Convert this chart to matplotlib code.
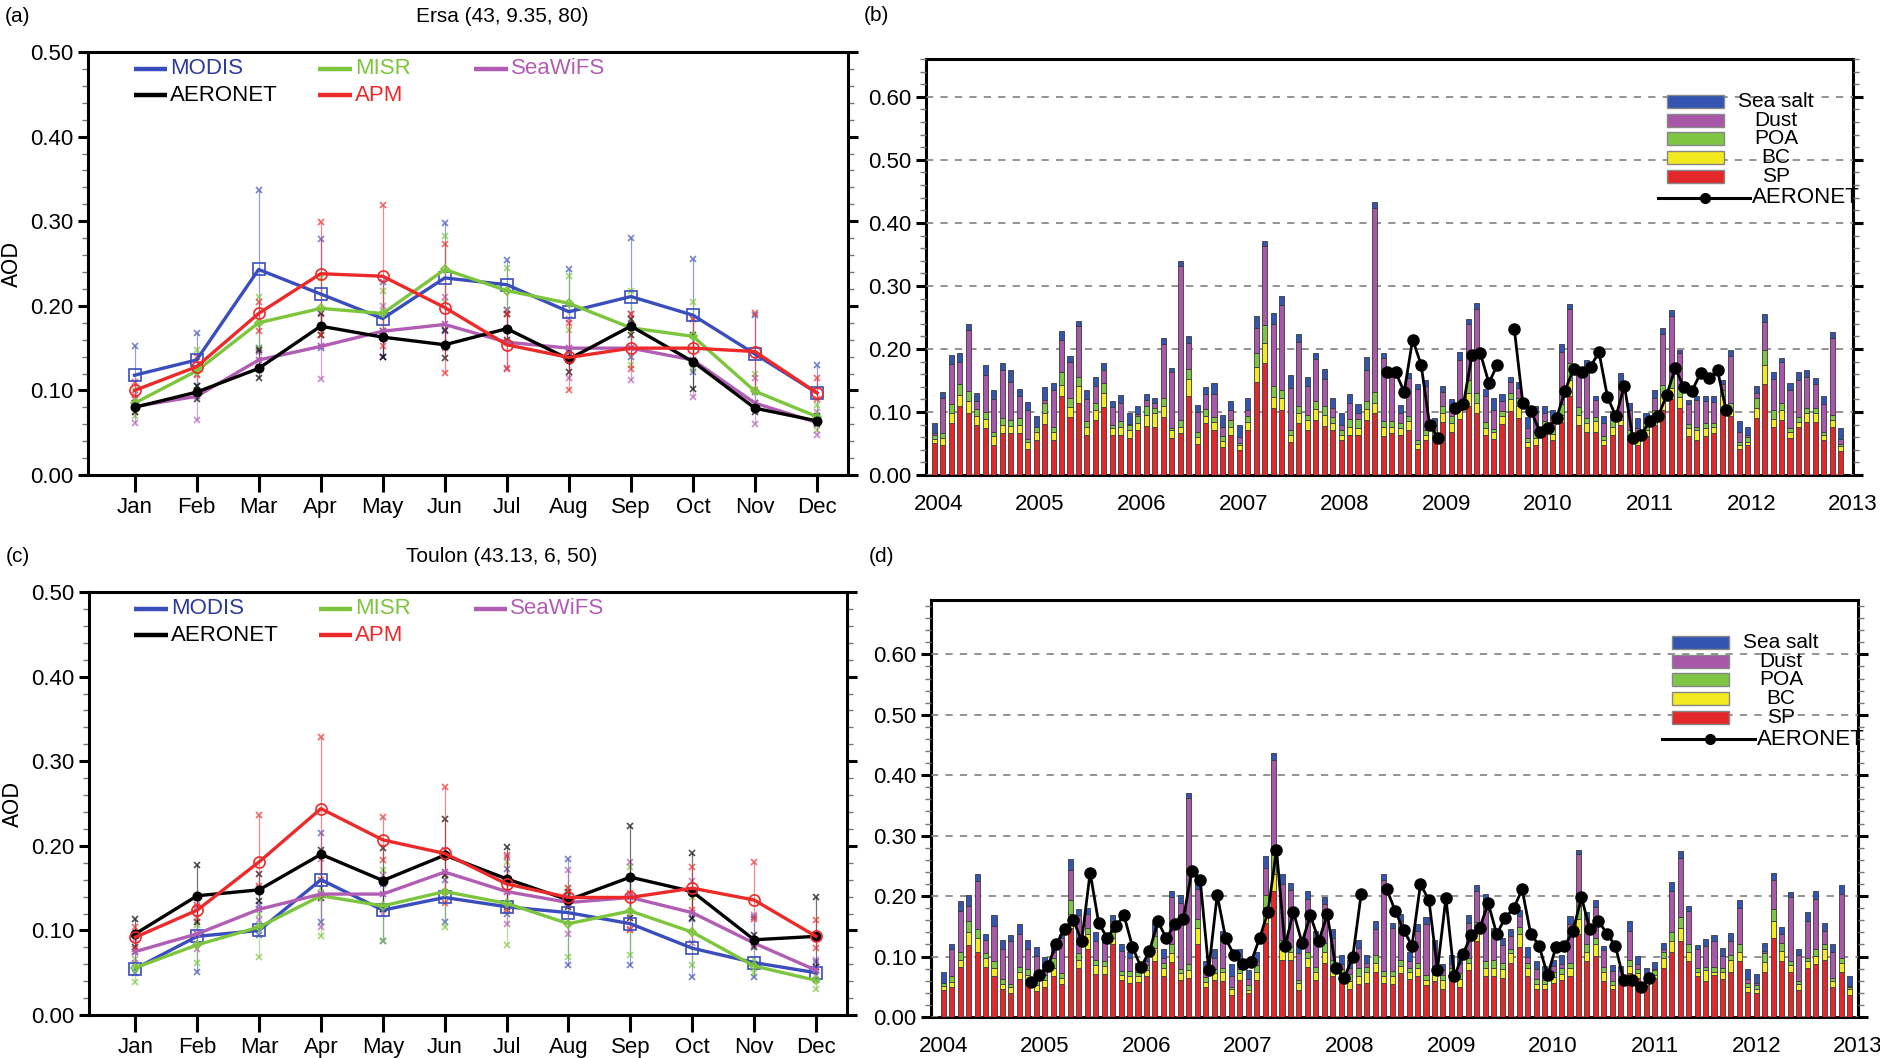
"""
AOD comparison at Ersa and Toulon: monthly climatology (a, c) and
APM composition time series with AERONET (b, d).
"""

import numpy as np
import matplotlib
matplotlib.use("Agg")
import matplotlib.pyplot as plt
from matplotlib.patches import Rectangle
from matplotlib.ticker import MultipleLocator, FormatStrFormatter

plt.rcParams["font.family"] = ["Liberation Sans Narrow", "Liberation Sans", "DejaVu Sans"]

MONTHS = ["Jan", "Feb", "Mar", "Apr", "May", "Jun",
          "Jul", "Aug", "Sep", "Oct", "Nov", "Dec"]
YEARS = [2004, 2005, 2006, 2007, 2008, 2009, 2010, 2011, 2012, 2013]

# ---------------- (a) Ersa monthly means and ranges ----------------
ersa_modis = [0.118, 0.136, 0.243, 0.214, 0.185, 0.233, 0.225, 0.193, 0.211, 0.189, 0.143, 0.097]
ersa_misr = [0.085, 0.123, 0.180, 0.197, 0.191, 0.243, 0.218, 0.203, 0.174, 0.164, 0.099, 0.069]
ersa_seawifs = [0.081, 0.093, 0.136, 0.152, 0.170, 0.178, 0.157, 0.150, 0.150, 0.136, 0.085, 0.062]
ersa_aeronet = [0.080, 0.098, 0.126, 0.176, 0.163, 0.154, 0.173, 0.137, 0.176, 0.134, 0.079, 0.064]
ersa_apm = [0.100, 0.128, 0.191, 0.238, 0.235, 0.198, 0.154, 0.139, 0.150, 0.150, 0.146, 0.097]

ersa_modis_hi = [0.152, 0.168, 0.337, 0.279, 0.228, 0.298, 0.254, 0.244, 0.280, 0.255, 0.189, 0.130]
ersa_modis_lo = [0.085, 0.105, 0.150, 0.150, 0.140, 0.170, 0.195, 0.145, 0.140, 0.122, 0.098, 0.065]
ersa_misr_hi = [0.100, 0.148, 0.211, 0.233, 0.218, 0.283, 0.245, 0.235, 0.218, 0.205, 0.120, 0.083]
ersa_misr_lo = [0.070, 0.100, 0.150, 0.165, 0.165, 0.205, 0.195, 0.172, 0.130, 0.125, 0.080, 0.053]
ersa_seawifs_hi = [0.095, 0.120, 0.145, 0.190, 0.200, 0.210, 0.195, 0.185, 0.190, 0.185, 0.115, 0.075]
ersa_seawifs_lo = [0.062, 0.065, 0.128, 0.113, 0.140, 0.150, 0.127, 0.115, 0.112, 0.092, 0.060, 0.047]
ersa_aeronet_hi = [0.085, 0.105, 0.148, 0.192, 0.170, 0.172, 0.190, 0.148, 0.185, 0.165, 0.085, 0.070]
ersa_aeronet_lo = [0.075, 0.090, 0.115, 0.165, 0.140, 0.138, 0.160, 0.122, 0.165, 0.102, 0.075, 0.060]
ersa_apm_hi = [0.110, 0.140, 0.205, 0.299, 0.319, 0.273, 0.190, 0.180, 0.190, 0.185, 0.191, 0.115]
ersa_apm_lo = [0.090, 0.118, 0.170, 0.165, 0.153, 0.121, 0.125, 0.100, 0.125, 0.135, 0.100, 0.090]

# ---------------- (c) Toulon monthly means and ranges ----------------
toulon_modis = [0.055, 0.093, 0.100, 0.160, 0.124, 0.139, 0.128, 0.121, 0.108, 0.079, 0.062, 0.050]
toulon_misr = [0.056, 0.083, 0.104, 0.141, 0.129, 0.146, 0.132, 0.108, 0.123, 0.098, 0.058, 0.041]
toulon_seawifs = [0.075, 0.096, 0.125, 0.143, 0.143, 0.169, 0.146, 0.133, 0.139, 0.121, 0.085, 0.053]
toulon_aeronet = [0.096, 0.141, 0.148, 0.190, 0.159, 0.189, 0.161, 0.136, 0.163, 0.146, 0.089, 0.093]
toulon_apm = [0.092, 0.124, 0.181, 0.244, 0.207, 0.191, 0.155, 0.139, 0.139, 0.150, 0.136, 0.093]

toulon_modis_hi = [0.074, 0.138, 0.130, 0.215, 0.155, 0.160, 0.173, 0.185, 0.161, 0.114, 0.116, 0.063]
toulon_modis_lo = [0.050, 0.051, 0.095, 0.110, 0.087, 0.110, 0.120, 0.059, 0.059, 0.045, 0.045, 0.042]
toulon_misr_hi = [0.066, 0.106, 0.120, 0.150, 0.171, 0.165, 0.181, 0.150, 0.175, 0.140, 0.066, 0.053]
toulon_misr_lo = [0.039, 0.061, 0.069, 0.093, 0.087, 0.104, 0.083, 0.069, 0.071, 0.059, 0.050, 0.031]
toulon_seawifs_hi = [0.090, 0.128, 0.150, 0.185, 0.166, 0.195, 0.187, 0.171, 0.181, 0.159, 0.118, 0.065]
toulon_seawifs_lo = [0.062, 0.078, 0.112, 0.104, 0.120, 0.145, 0.108, 0.096, 0.102, 0.085, 0.083, 0.046]
toulon_aeronet_hi = [0.114, 0.177, 0.167, 0.195, 0.197, 0.232, 0.199, 0.145, 0.224, 0.191, 0.095, 0.140]
toulon_aeronet_lo = [0.080, 0.110, 0.135, 0.138, 0.125, 0.165, 0.128, 0.128, 0.115, 0.115, 0.080, 0.057]
toulon_apm_hi = [0.104, 0.130, 0.236, 0.329, 0.234, 0.270, 0.189, 0.150, 0.144, 0.175, 0.181, 0.112]
toulon_apm_lo = [0.078, 0.115, 0.152, 0.160, 0.183, 0.132, 0.124, 0.130, 0.100, 0.124, 0.114, 0.079]

# ---------------- (b) Ersa APM composition, Jan 2004 - Dec 2012 ----------------
ersa_sp = [
    0.051, 0.048, 0.083, 0.109, 0.098, 0.080, 0.074, 0.048, 0.067, 0.067, 0.066, 0.042,
    0.056, 0.081, 0.056, 0.125, 0.092, 0.115, 0.064, 0.088, 0.108, 0.064, 0.064, 0.058,
    0.072, 0.078, 0.077, 0.092, 0.058, 0.066, 0.126, 0.050, 0.083, 0.072, 0.044, 0.064,
    0.039, 0.072, 0.147, 0.178, 0.106, 0.103, 0.052, 0.083, 0.072, 0.088, 0.078, 0.071,
    0.056, 0.063, 0.064, 0.088, 0.098, 0.062, 0.066, 0.064, 0.072, 0.041, 0.056, 0.055,
    0.084, 0.068, 0.089, 0.110, 0.098, 0.064, 0.057, 0.081, 0.101, 0.090, 0.045, 0.048,
    0.064, 0.055, 0.084, 0.125, 0.080, 0.069, 0.069, 0.048, 0.064, 0.080, 0.057, 0.048,
    0.062, 0.080, 0.103, 0.120, 0.106, 0.062, 0.056, 0.062, 0.066, 0.105, 0.093, 0.041,
    0.047, 0.090, 0.145, 0.076, 0.088, 0.058, 0.077, 0.084, 0.084, 0.055, 0.076, 0.038]
ersa_bc = [
    0.006, 0.010, 0.015, 0.018, 0.020, 0.013, 0.015, 0.014, 0.012, 0.011, 0.013, 0.011,
    0.013, 0.017, 0.013, 0.018, 0.016, 0.027, 0.013, 0.015, 0.022, 0.011, 0.013, 0.013,
    0.011, 0.017, 0.021, 0.017, 0.013, 0.011, 0.027, 0.011, 0.011, 0.012, 0.010, 0.013,
    0.008, 0.012, 0.024, 0.032, 0.018, 0.019, 0.011, 0.015, 0.015, 0.017, 0.017, 0.012,
    0.008, 0.013, 0.011, 0.016, 0.017, 0.014, 0.011, 0.011, 0.013, 0.009, 0.008, 0.009,
    0.015, 0.014, 0.014, 0.020, 0.016, 0.011, 0.012, 0.012, 0.019, 0.020, 0.008, 0.010,
    0.013, 0.010, 0.012, 0.026, 0.016, 0.013, 0.017, 0.008, 0.013, 0.008, 0.006, 0.008,
    0.010, 0.012, 0.024, 0.018, 0.018, 0.012, 0.015, 0.012, 0.011, 0.020, 0.010, 0.007,
    0.006, 0.016, 0.030, 0.013, 0.015, 0.010, 0.007, 0.015, 0.014, 0.008, 0.011, 0.008]
ersa_poa = [
    0.006, 0.008, 0.014, 0.018, 0.016, 0.011, 0.011, 0.006, 0.012, 0.009, 0.012, 0.004,
    0.008, 0.016, 0.008, 0.020, 0.014, 0.014, 0.008, 0.011, 0.016, 0.004, 0.009, 0.008,
    0.010, 0.015, 0.008, 0.013, 0.004, 0.011, 0.015, 0.008, 0.010, 0.008, 0.008, 0.011,
    0.004, 0.010, 0.023, 0.028, 0.018, 0.013, 0.009, 0.011, 0.009, 0.013, 0.014, 0.009,
    0.008, 0.013, 0.014, 0.013, 0.017, 0.009, 0.008, 0.008, 0.008, 0.006, 0.008, 0.008,
    0.011, 0.012, 0.011, 0.020, 0.016, 0.009, 0.004, 0.008, 0.010, 0.012, 0.006, 0.010,
    0.008, 0.008, 0.017, 0.027, 0.012, 0.008, 0.006, 0.006, 0.011, 0.006, 0.008, 0.008,
    0.010, 0.011, 0.016, 0.018, 0.013, 0.007, 0.005, 0.008, 0.006, 0.010, 0.011, 0.004,
    0.007, 0.016, 0.024, 0.014, 0.011, 0.006, 0.008, 0.007, 0.008, 0.006, 0.009, 0.004]
ersa_dust = [
    0.003, 0.056, 0.064, 0.035, 0.096, 0.014, 0.059, 0.053, 0.075, 0.061, 0.035, 0.046,
    0.000, 0.005, 0.058, 0.052, 0.057, 0.080, 0.035, 0.027, 0.021, 0.029, 0.029, 0.002,
    0.004, 0.009, 0.008, 0.086, 0.088, 0.244, 0.042, 0.031, 0.024, 0.036, 0.015, 0.015,
    0.010, 0.009, 0.040, 0.125, 0.098, 0.134, 0.066, 0.102, 0.046, 0.066, 0.044, 0.014,
    0.008, 0.026, 0.010, 0.050, 0.291, 0.100, 0.071, 0.016, 0.061, 0.080, 0.069, 0.007,
    0.021, 0.015, 0.069, 0.089, 0.134, 0.041, 0.030, 0.016, 0.017, 0.016, 0.015, 0.030,
    0.013, 0.019, 0.082, 0.085, 0.055, 0.085, 0.027, 0.020, 0.004, 0.055, 0.032, 0.010,
    0.007, 0.020, 0.080, 0.097, 0.057, 0.032, 0.043, 0.035, 0.033, 0.010, 0.075, 0.017,
    0.003, 0.008, 0.044, 0.049, 0.065, 0.061, 0.058, 0.050, 0.038, 0.043, 0.121, 0.007]
ersa_seasalt = [
    0.017, 0.010, 0.014, 0.014, 0.009, 0.012, 0.015, 0.014, 0.012, 0.018, 0.010, 0.013,
    0.017, 0.020, 0.011, 0.014, 0.010, 0.009, 0.015, 0.015, 0.011, 0.009, 0.012, 0.018,
    0.012, 0.010, 0.009, 0.010, 0.007, 0.008, 0.010, 0.011, 0.011, 0.018, 0.018, 0.014,
    0.018, 0.019, 0.019, 0.008, 0.017, 0.015, 0.020, 0.013, 0.013, 0.010, 0.016, 0.016,
    0.018, 0.013, 0.013, 0.021, 0.010, 0.009, 0.009, 0.012, 0.008, 0.008, 0.009, 0.012,
    0.011, 0.011, 0.013, 0.008, 0.009, 0.011, 0.019, 0.012, 0.009, 0.010, 0.018, 0.012,
    0.012, 0.011, 0.013, 0.009, 0.009, 0.008, 0.007, 0.012, 0.010, 0.013, 0.012, 0.016,
    0.009, 0.012, 0.010, 0.009, 0.004, 0.006, 0.006, 0.008, 0.009, 0.006, 0.009, 0.016,
    0.013, 0.012, 0.012, 0.012, 0.007, 0.011, 0.013, 0.011, 0.010, 0.013, 0.010, 0.017]
nan = np.nan
ersa_aeronet_monthly = [
    nan, nan, nan, nan, nan, nan, nan, nan, nan, nan, nan, nan,
    nan, nan, nan, nan, nan, nan, nan, nan, nan, nan, nan, nan,
    nan, nan, nan, nan, nan, nan, nan, nan, nan, nan, nan, nan,
    nan, nan, nan, nan, nan, nan, nan, nan, nan, nan, nan, nan,
    nan, nan, nan, nan, nan, 0.163, 0.163, 0.132, 0.215, 0.175, 0.080, 0.059,
    nan, 0.107, 0.113, 0.190, 0.193, 0.146, 0.175, nan, 0.232, 0.115, 0.101, 0.069,
    0.074, 0.091, 0.134, 0.169, 0.163, 0.172, 0.195, 0.124, 0.093, 0.142, 0.058, 0.064,
    0.086, 0.094, 0.127, 0.170, 0.139, 0.134, 0.162, 0.154, 0.166, 0.103, nan, nan,
    nan, nan, nan, nan, nan, nan, nan, nan, nan, nan, nan, nan]

# ---------------- (d) Toulon APM composition, Jan 2004 - Dec 2012 ----------------
toulon_sp = [
    0.045, 0.049, 0.082, 0.119, 0.108, 0.082, 0.067, 0.047, 0.040, 0.063, 0.055, 0.043,
    0.049, 0.067, 0.054, 0.148, 0.081, 0.112, 0.071, 0.071, 0.120, 0.061, 0.057, 0.058,
    0.067, 0.092, 0.067, 0.091, 0.061, 0.064, 0.121, 0.050, 0.061, 0.060, 0.036, 0.061,
    0.039, 0.061, 0.156, 0.209, 0.095, 0.095, 0.045, 0.082, 0.061, 0.089, 0.067, 0.059,
    0.047, 0.054, 0.057, 0.074, 0.057, 0.054, 0.073, 0.063, 0.067, 0.053, 0.059, 0.046,
    0.059, 0.050, 0.078, 0.126, 0.067, 0.067, 0.064, 0.089, 0.115, 0.067, 0.047, 0.047,
    0.056, 0.061, 0.067, 0.137, 0.092, 0.101, 0.060, 0.046, 0.054, 0.073, 0.064, 0.053,
    0.064, 0.081, 0.108, 0.126, 0.092, 0.067, 0.059, 0.069, 0.063, 0.075, 0.092, 0.042,
    0.039, 0.075, 0.131, 0.092, 0.074, 0.045, 0.081, 0.088, 0.095, 0.049, 0.075, 0.036]
toulon_bc = [
    0.007, 0.009, 0.013, 0.021, 0.022, 0.016, 0.014, 0.008, 0.010, 0.011, 0.015, 0.010,
    0.012, 0.014, 0.010, 0.022, 0.014, 0.025, 0.015, 0.013, 0.010, 0.008, 0.010, 0.010,
    0.011, 0.022, 0.014, 0.015, 0.011, 0.014, 0.027, 0.008, 0.011, 0.014, 0.010, 0.011,
    0.006, 0.014, 0.026, 0.028, 0.025, 0.013, 0.012, 0.016, 0.013, 0.018, 0.014, 0.010,
    0.012, 0.013, 0.017, 0.015, 0.010, 0.013, 0.012, 0.011, 0.014, 0.008, 0.010, 0.015,
    0.014, 0.012, 0.011, 0.017, 0.014, 0.014, 0.015, 0.016, 0.022, 0.014, 0.008, 0.008,
    0.010, 0.010, 0.014, 0.025, 0.016, 0.020, 0.015, 0.007, 0.008, 0.011, 0.008, 0.008,
    0.006, 0.017, 0.018, 0.022, 0.016, 0.007, 0.018, 0.006, 0.012, 0.020, 0.016, 0.008,
    0.008, 0.016, 0.028, 0.017, 0.012, 0.009, 0.011, 0.013, 0.017, 0.010, 0.014, 0.010]
toulon_poa = [
    0.004, 0.009, 0.013, 0.019, 0.015, 0.008, 0.011, 0.008, 0.004, 0.008, 0.010, 0.012,
    0.009, 0.016, 0.008, 0.023, 0.011, 0.011, 0.009, 0.008, 0.011, 0.007, 0.009, 0.007,
    0.008, 0.020, 0.008, 0.014, 0.008, 0.009, 0.014, 0.008, 0.008, 0.007, 0.004, 0.008,
    0.008, 0.011, 0.020, 0.031, 0.008, 0.007, 0.004, 0.010, 0.008, 0.015, 0.013, 0.010,
    0.012, 0.014, 0.009, 0.014, 0.009, 0.009, 0.010, 0.007, 0.008, 0.008, 0.008, 0.008,
    0.008, 0.010, 0.008, 0.014, 0.011, 0.014, 0.010, 0.008, 0.012, 0.008, 0.008, 0.006,
    0.008, 0.010, 0.008, 0.021, 0.012, 0.010, 0.007, 0.006, 0.005, 0.010, 0.008, 0.005,
    0.007, 0.010, 0.015, 0.017, 0.013, 0.007, 0.005, 0.007, 0.006, 0.008, 0.012, 0.006,
    0.006, 0.015, 0.020, 0.014, 0.007, 0.006, 0.006, 0.011, 0.008, 0.006, 0.008, 0.004]
toulon_dust = [
    0.001, 0.045, 0.067, 0.025, 0.080, 0.021, 0.059, 0.049, 0.071, 0.055, 0.032, 0.036,
    0.018, 0.010, 0.058, 0.050, 0.063, 0.022, 0.031, 0.030, 0.018, 0.033, 0.021, 0.006,
    0.006, 0.008, 0.009, 0.078, 0.109, 0.275, 0.050, 0.018, 0.018, 0.052, 0.017, 0.017,
    0.009, 0.007, 0.044, 0.157, 0.092, 0.095, 0.045, 0.088, 0.048, 0.065, 0.036, 0.008,
    0.010, 0.033, 0.006, 0.042, 0.151, 0.072, 0.064, 0.011, 0.053, 0.084, 0.035, 0.008,
    0.006, 0.015, 0.059, 0.052, 0.100, 0.040, 0.030, 0.021, 0.018, 0.011, 0.017, 0.009,
    0.010, 0.007, 0.065, 0.086, 0.042, 0.051, 0.029, 0.017, 0.009, 0.049, 0.008, 0.002,
    0.003, 0.004, 0.067, 0.098, 0.054, 0.031, 0.036, 0.043, 0.020, 0.022, 0.060, 0.006,
    0.003, 0.003, 0.047, 0.014, 0.105, 0.043, 0.061, 0.084, 0.022, 0.043, 0.107, 0.001]
toulon_seasalt = [
    0.017, 0.009, 0.017, 0.017, 0.012, 0.011, 0.017, 0.016, 0.011, 0.017, 0.015, 0.015,
    0.012, 0.008, 0.007, 0.018, 0.010, 0.010, 0.014, 0.010, 0.009, 0.011, 0.011, 0.008,
    0.006, 0.013, 0.014, 0.010, 0.012, 0.008, 0.010, 0.008, 0.014, 0.009, 0.021, 0.016,
    0.015, 0.015, 0.021, 0.012, 0.017, 0.011, 0.015, 0.012, 0.012, 0.011, 0.015, 0.015,
    0.014, 0.014, 0.014, 0.014, 0.010, 0.008, 0.011, 0.016, 0.012, 0.012, 0.015, 0.010,
    0.015, 0.014, 0.012, 0.009, 0.012, 0.013, 0.012, 0.011, 0.010, 0.015, 0.012, 0.014,
    0.011, 0.015, 0.013, 0.007, 0.012, 0.011, 0.007, 0.010, 0.009, 0.016, 0.013, 0.013,
    0.011, 0.011, 0.015, 0.011, 0.008, 0.007, 0.011, 0.011, 0.013, 0.014, 0.013, 0.018,
    0.015, 0.014, 0.013, 0.012, 0.008, 0.010, 0.014, 0.012, 0.014, 0.013, 0.014, 0.016]
toulon_aeronet_monthly = [
    nan, nan, nan, nan, nan, nan, nan, nan, nan, nan, 0.058, 0.069,
    0.084, 0.121, 0.146, 0.161, 0.126, 0.239, 0.156, 0.131, 0.150, 0.168, 0.116, 0.082,
    0.109, 0.158, 0.130, 0.154, 0.162, 0.242, 0.226, 0.078, 0.202, 0.130, 0.102, 0.087,
    0.091, 0.130, 0.174, 0.277, 0.117, 0.174, 0.123, 0.168, 0.126, 0.170, 0.081, 0.065,
    0.099, 0.204, nan, nan, 0.212, 0.176, 0.144, 0.118, 0.220, 0.193, 0.078, 0.197,
    0.067, 0.104, 0.135, 0.148, 0.188, 0.137, 0.164, 0.180, 0.211, 0.138, 0.118, 0.069,
    0.116, 0.117, 0.142, 0.198, 0.145, 0.159, 0.138, 0.118, 0.061, 0.061, 0.050, 0.064,
    nan, nan, nan, nan, nan, nan, nan, nan, nan, nan, nan, nan,
    nan, nan, nan, nan, nan, nan, nan, nan, nan, nan, nan, nan]

# ---------------- style ----------------
C_MODIS = "#3a4dbd"
C_MISR = "#7cc53c"
C_SEAWIFS = "#b15db3"
C_AERONET = "#000000"
C_APM = "#ec2a2a"
C_MODIS_TXT = "#2c3a9a"

C_SS = "#3354b0"
C_DUST = "#a957a8"
C_POA = "#7ec544"
C_BC = "#f2ea1e"
C_SP = "#e3272b"

TICK_FS = 16
SPINE_W = 2.2


def frame(ax):
    for s in ax.spines.values():
        s.set_linewidth(SPINE_W)


def draw_climatology(ax, series, title, panel):
    x = np.arange(1, 13)
    # spread bars first, thin with x caps
    for vals, lo, hi, color, mk, mfc, ms in series:
        ax.vlines(x, lo, hi, color=color, lw=0.9, alpha=0.55, zorder=2)
        ax.plot(x, hi, "x", color=color, ms=5, mew=1.2, alpha=0.7, zorder=2)
        ax.plot(x, lo, "x", color=color, ms=5, mew=1.2, alpha=0.7, zorder=2)
    for vals, lo, hi, color, mk, mfc, ms in series:
        ax.plot(x, vals, color=color, lw=2.4, marker=mk, ms=ms,
                mfc=mfc, mec=color, mew=1.2, zorder=4)

    ax.set_xlim(0.25, 12.5)
    ax.set_ylim(0, 0.5)
    ax.set_xticks(x)
    ax.set_xticklabels(MONTHS)
    ax.yaxis.set_major_locator(MultipleLocator(0.1))
    ax.yaxis.set_minor_locator(MultipleLocator(0.02))
    ax.yaxis.set_major_formatter(FormatStrFormatter("%.2f"))
    ax.tick_params(axis="x", direction="out", length=12, width=2.2,
                   labelsize=TICK_FS, pad=4, top=False)
    ax.tick_params(axis="y", which="major", direction="out", length=7, width=2.2,
                   labelsize=TICK_FS, right=True, left=True)
    ax.tick_params(axis="y", which="minor", direction="out", length=4, width=1.0,
                   color="#777777", right=True, left=True)
    ax.set_ylabel("AOD", fontsize=15, family="DejaVu Sans", labelpad=6)
    frame(ax)

    # legend: two rows, three columns
    rows = [(0.960, [("MODIS", C_MODIS, C_MODIS_TXT, 0.060),
                     ("MISR", C_MISR, C_MISR, 0.303),
                     ("SeaWiFS", C_SEAWIFS, C_SEAWIFS, 0.508)]),
            (0.898, [("AERONET", C_AERONET, C_AERONET, 0.060),
                     ("APM", C_APM, C_APM, 0.303)])]
    for yy, entries in rows:
        for label, lc, tc, x0 in entries:
            ax.plot([x0, x0 + 0.044], [yy, yy], color=lc, lw=3.2,
                    transform=ax.transAxes, solid_capstyle="butt")
            ax.text(x0 + 0.048, yy, label, color=tc, fontsize=16,
                    transform=ax.transAxes, ha="left", va="center")

    ax.text(0.545, 1.085, title, transform=ax.transAxes, ha="center",
            va="center", fontsize=15)
    ax.text(-0.11, 1.085, panel, transform=ax.transAxes, ha="left",
            va="center", fontsize=15)


def draw_composition(ax, comps, aeronet, ymax, bar_shift, aer_shift, panel):
    months = np.arange(len(comps[0][0]))
    xb = YEARS[0] + (months + bar_shift) / 12.0
    xa = YEARS[0] + (months + aer_shift) / 12.0
    bottom = np.zeros(len(months))
    for vals, color in comps:
        vals = np.asarray(vals)
        ax.bar(xb, vals, width=0.05, bottom=bottom, color=color,
               edgecolor="#3a3a3a", linewidth=0.6, zorder=3)
        bottom = bottom + vals
    ax.plot(xa, aeronet, color="black", lw=2.0, marker="o", ms=8,
            zorder=5)

    ax.set_xlim(2003.88, 2013.0)
    ax.set_ylim(0, ymax)
    ax.set_xticks(YEARS)
    ax.set_xticklabels([str(y) for y in YEARS])
    ax.yaxis.set_major_locator(MultipleLocator(0.1))
    ax.yaxis.set_minor_locator(MultipleLocator(0.02))
    ax.yaxis.set_major_formatter(FormatStrFormatter("%.2f"))
    ax.tick_params(axis="x", length=0, labelsize=TICK_FS, pad=14)
    ax.tick_params(axis="y", which="major", direction="out", length=7, width=2.2,
                   labelsize=TICK_FS, right=True, left=True)
    ax.tick_params(axis="y", which="minor", direction="out", length=4, width=1.0,
                   color="#777777", right=True, left=True)
    ax.grid(axis="y", which="major", color="#8a8a8a", lw=1.3,
            linestyle=(0, (4, 4)), zorder=6)
    ax.set_axisbelow(False)
    frame(ax)

    # legend box column
    labels = ["Sea salt", "Dust", "POA", "BC", "SP"]
    colors = [c for _, c in comps][::-1]
    ys = [0.898, 0.853, 0.809, 0.763, 0.718]
    for label, color, yy in zip(labels, colors, ys):
        ax.add_patch(Rectangle((0.799, yy - 0.016), 0.062, 0.032,
                               transform=ax.transAxes, facecolor=color,
                               edgecolor="#888888", lw=1.0, zorder=4))
        ax.text(0.917, yy, label, transform=ax.transAxes, ha="center",
                va="center", fontsize=15, zorder=7)
    ax.plot([0.789, 0.889], [0.666, 0.666], color="black", lw=2.2,
            transform=ax.transAxes, zorder=7)
    ax.plot([0.840], [0.666], "o", color="black", ms=7,
            transform=ax.transAxes, zorder=7)
    ax.text(0.891, 0.666, "AERONET", transform=ax.transAxes, ha="left",
            va="center", fontsize=16, zorder=7)

    ax.text(-0.067, 1.105, panel, transform=ax.transAxes, ha="left",
            va="center", fontsize=15)


fig = plt.figure(figsize=(18.8, 10.58), dpi=100)
ax_a = fig.add_axes([0.0468, 0.5510, 0.4043, 0.3998])
ax_b = fig.add_axes([0.4926, 0.5510, 0.4931, 0.3932])
ax_c = fig.add_axes([0.0473, 0.0406, 0.4032, 0.3998])
ax_d = fig.add_axes([0.4952, 0.0388, 0.4931, 0.3941])

draw_climatology(ax_a, [
    (ersa_modis, ersa_modis_lo, ersa_modis_hi, C_MODIS, "s", "none", 8),
    (ersa_misr, ersa_misr_lo, ersa_misr_hi, C_MISR, "D", "none", 4),
    (ersa_seawifs, ersa_seawifs_lo, ersa_seawifs_hi, C_SEAWIFS, "x", C_SEAWIFS, 5),
    (ersa_aeronet, ersa_aeronet_lo, ersa_aeronet_hi, C_AERONET, "o", C_AERONET, 6),
    (ersa_apm, ersa_apm_lo, ersa_apm_hi, C_APM, "o", "none", 8),
], "Ersa (43, 9.35, 80)", "(a)")

draw_climatology(ax_c, [
    (toulon_modis, toulon_modis_lo, toulon_modis_hi, C_MODIS, "s", "none", 8),
    (toulon_misr, toulon_misr_lo, toulon_misr_hi, C_MISR, "D", "none", 4),
    (toulon_seawifs, toulon_seawifs_lo, toulon_seawifs_hi, C_SEAWIFS, "x", C_SEAWIFS, 5),
    (toulon_aeronet, toulon_aeronet_lo, toulon_aeronet_hi, C_AERONET, "o", C_AERONET, 6),
    (toulon_apm, toulon_apm_lo, toulon_apm_hi, C_APM, "o", "none", 8),
], "Toulon (43.13, 6, 50)", "(c)")

draw_composition(ax_b, [(ersa_sp, C_SP), (ersa_bc, C_BC), (ersa_poa, C_POA),
                        (ersa_dust, C_DUST), (ersa_seasalt, C_SS)],
                 ersa_aeronet_monthly, 0.66, -0.45, 0.0, "(b)")
draw_composition(ax_d, [(toulon_sp, C_SP), (toulon_bc, C_BC), (toulon_poa, C_POA),
                        (toulon_dust, C_DUST), (toulon_seasalt, C_SS)],
                 toulon_aeronet_monthly, 0.69, 0.0, 0.35, "(d)")

fig.savefig("out.png", dpi=100)
